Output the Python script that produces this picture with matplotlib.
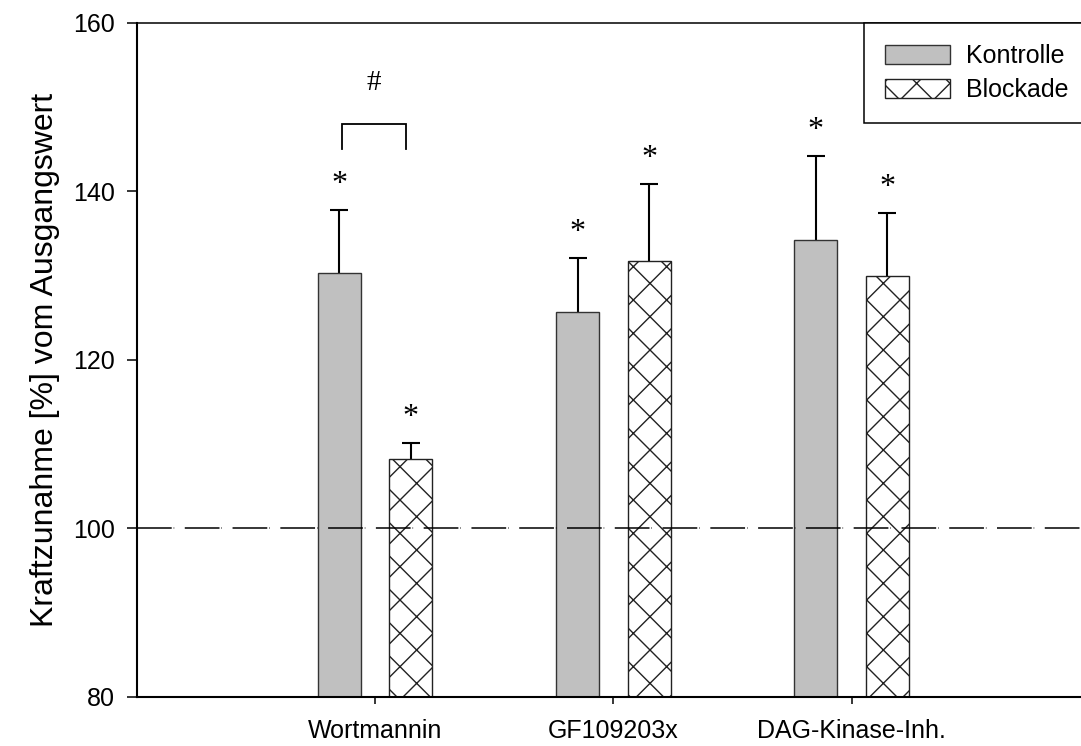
import matplotlib
matplotlib.use('Agg')
import matplotlib.pyplot as plt
import numpy as np

# data
groups = ['Wortmannin', 'GF109203x', 'DAG-Kinase-Inh.']
kontrolle = [130.3, 125.7, 134.2]
kontrolle_err = [7.5, 6.4, 10.0]
blockade = [108.2, 131.7, 129.9]
blockade_err = [1.9, 9.2, 7.5]
kontrolle_sig = ['*', '*', '*']
blockade_sig = ['*', '*', '*']
baseline = 100

plt.rcParams['font.family'] = ['Liberation Sans', 'DejaVu Sans']
plt.rcParams['hatch.linewidth'] = 1.0
plt.rcParams['lines.scale_dashes'] = False

fig = plt.figure(figsize=(10.81, 7.46), dpi=100)
ax = fig.add_axes([0.1265, 0.0657, 0.8818, 0.9039])

x = np.arange(1, len(groups) + 1)
w = 0.18
off = 0.15

b1 = ax.bar(x - off, np.array(kontrolle) - 80, w, bottom=80, color='#c0c0c0',
            edgecolor='#333333', linewidth=1.0, label='Kontrolle', zorder=2)
b2 = ax.bar(x + off, np.array(blockade) - 80, w, bottom=80, color='white',
            edgecolor='#222222', linewidth=1.0, hatch='x', label='Blockade', zorder=2)

# upper error bars only
for xs, vals, errs in [(x - off, kontrolle, kontrolle_err), (x + off, blockade, blockade_err)]:
    eb = ax.errorbar(xs, vals, yerr=[np.zeros(len(vals)), errs], fmt='none',
                     ecolor='black', elinewidth=1.5, capthick=1.5, capsize=6.8, zorder=1)
    eb[1][0].set_visible(False)

# dashed baseline
ax.axhline(baseline, color='black', linewidth=1.1,
           linestyle=(0, (25, 1.4, 0.4, 7.6)), zorder=5)

# significance marks
for xi, v, e, s in zip(x - off, kontrolle, kontrolle_err, kontrolle_sig):
    ax.annotate(s, xy=(xi, v + e), xytext=(0, 13), textcoords='offset points',
                ha='center', va='baseline', fontsize=23, family='Liberation Serif')
for xi, v, e, s in zip(x + off, blockade, blockade_err, blockade_sig):
    ax.annotate(s, xy=(xi, v + e), xytext=(0, 13), textcoords='offset points',
                ha='center', va='baseline', fontsize=23, family='Liberation Serif')

# bracket between Wortmannin bars
bracket_y = 148.0
bracket_drop = 145.0
bx1, bx2 = x[0] - off + 0.01, x[0] + off - 0.02
ax.plot([bx1, bx1, bx2, bx2], [bracket_drop, bracket_y, bracket_y, bracket_drop],
        color='black', linewidth=1.3, solid_joinstyle='miter')
ax.annotate('#', xy=((bx1 + bx2) / 2, bracket_y), xytext=(0, 24),
            textcoords='offset points', ha='center', va='baseline',
            fontsize=21, family='Liberation Serif')

ax.set_xlim(0, 4)
ax.set_ylim(80, 160)
ax.set_yticks([80, 100, 120, 140, 160])
ax.set_xticks(x)
ax.set_xticklabels(groups)
ax.tick_params(axis='y', direction='out', length=7, width=1.1, labelsize=18, pad=9)
ax.tick_params(axis='x', direction='out', length=5, width=1.1, labelsize=18, pad=11)
for sp in ['left', 'bottom']:
    ax.spines[sp].set_linewidth(1.5)
ax.spines['top'].set_linewidth(1.1)

ax.set_ylabel('Kraftzunahme [%] vom Ausgangswert', fontsize=23)
ax.yaxis.set_label_coords(-0.08, 0.5)

leg = ax.legend(loc='upper right', bbox_to_anchor=(1, 1), borderaxespad=0,
                fontsize=18, handlelength=2.6, handleheight=0.8,
                handletextpad=0.65, labelspacing=0.4, borderpad=0.85,
                fancybox=False, framealpha=1, edgecolor='black')
leg.get_frame().set_linewidth(1.1)

fig.savefig('out.png', dpi=100)
